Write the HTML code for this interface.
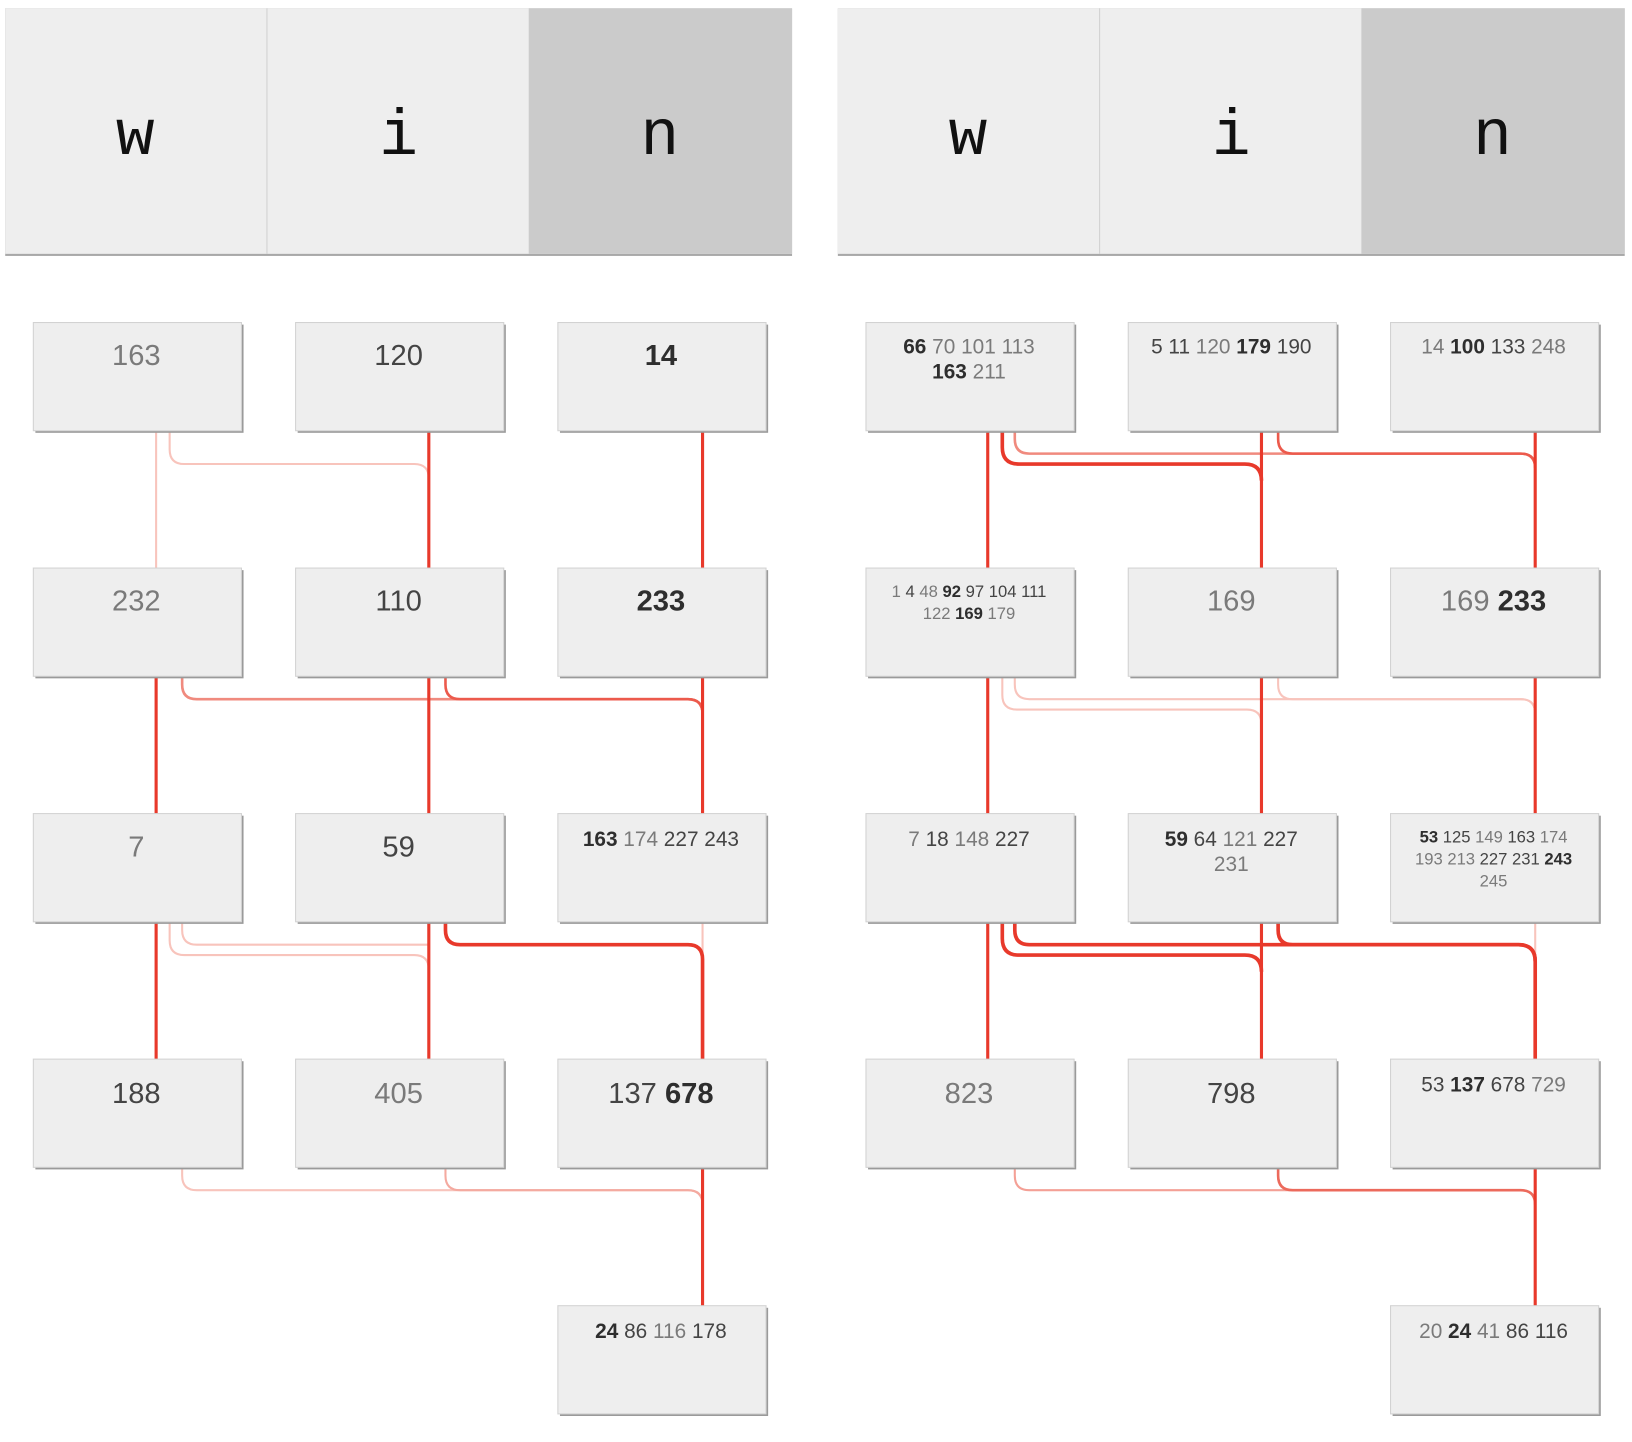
<!DOCTYPE html>
<html><head><meta charset="utf-8"><style>
html,body{margin:0;padding:0;background:#fff;width:1632px;height:1442px;overflow:hidden}
svg{display:block}
.L{fill:#7a7a7a}
.N{fill:#444}
.B{fill:#2e2e2e;font-weight:bold}
text{font-family:"Liberation Sans",sans-serif;text-anchor:middle}
.hd{font-family:"Liberation Mono","DejaVu Sans Mono",monospace;font-size:62px;fill:#111}
</style></head><body>
<svg width="1632" height="1442" viewBox="0 0 1568 1386" preserveAspectRatio="none">
<defs>
<g id="bx"><rect x="2" y="2" width="200" height="104" fill="#9a9a9a"/><rect x="0" y="0" width="200" height="104" fill="#eeeeee" stroke="#d2d2d2" stroke-width="1"/></g>
</defs>
<!-- headers -->
<g>
<rect x="5" y="8" width="756" height="238" fill="#a8a8a8"/>
<rect x="5" y="8" width="756" height="236" fill="#eeeeee"/>
<rect x="508" y="8" width="253" height="236" fill="#cbcbcb"/>
<line x1="256.5" y1="8" x2="256.5" y2="244" stroke="#d0d0d0"/>
<text class="hd" x="130" y="148">w</text><text class="hd" x="383" y="148">i</text><text class="hd" x="634" y="148">n</text>
<rect x="805" y="8" width="756" height="238" fill="#a8a8a8"/>
<rect x="805" y="8" width="756" height="236" fill="#eeeeee"/>
<rect x="1308" y="8" width="253" height="236" fill="#cbcbcb"/>
<line x1="1056.5" y1="8" x2="1056.5" y2="244" stroke="#d0d0d0"/>
<text class="hd" x="930" y="148">w</text><text class="hd" x="1183" y="148">i</text><text class="hd" x="1434" y="148">n</text>
</g>
<!-- connectors -->
<g fill="none" stroke-linecap="butt">
<!-- left r1-r2 -->
<path d="M150 414V546" stroke="#f8c4bc" stroke-width="2"/>
<path d="M163 414V432Q163 446 177 446H398Q412 446 412 460" stroke="#f8c4bc" stroke-width="2"/>
<path d="M412 414V546" stroke="#e8392b" stroke-width="3"/>
<path d="M675 414V546" stroke="#e8392b" stroke-width="3"/>
<!-- left r2-r3 -->
<path d="M150 650V782" stroke="#e8392b" stroke-width="3"/>
<path d="M175 650V658Q175 672 189 672H661Q675 672 675 686" stroke="#f08a7e" stroke-width="2.5"/>
<path d="M428 650V658Q428 672 442 672H661Q675 672 675 686" stroke="#ec5a4c" stroke-width="2.5"/>
<path d="M412 650V782" stroke="#e8392b" stroke-width="3"/>
<path d="M675 650V782" stroke="#e8392b" stroke-width="3"/>
<!-- left r3-r4 -->
<path d="M150 886V1018" stroke="#e8392b" stroke-width="3"/>
<path d="M175 886V894Q175 908 189 908H412" stroke="#f8c4bc" stroke-width="2"/>
<path d="M163 886V904Q163 918 177 918H398Q412 918 412 932" stroke="#f8c4bc" stroke-width="2"/>
<path d="M412 886V1018" stroke="#e8392b" stroke-width="3"/>
<path d="M675 886V1018" stroke="#f8c4bc" stroke-width="2"/>
<path d="M428 886V894Q428 908 442 908H661Q675 908 675 922V1018" stroke="#e8392b" stroke-width="3.5"/>
<!-- left r4-r5 -->
<path d="M175 1122V1130Q175 1144 189 1144H661Q675 1144 675 1158" stroke="#f8c4bc" stroke-width="2"/>
<path d="M428 1122V1130Q428 1144 442 1144H661Q675 1144 675 1158" stroke="#f4aaa0" stroke-width="2"/>
<path d="M675 1122V1255" stroke="#e8392b" stroke-width="3"/>
<!-- right r1-r2 -->
<path d="M949 414V546" stroke="#e8392b" stroke-width="3"/>
<path d="M975 414V422Q975 436 989 436H1461Q1475 436 1475 450" stroke="#f08a7e" stroke-width="2.5"/>
<path d="M963 414V430Q963 446 979 446H1196Q1212 446 1212 462" stroke="#e8392b" stroke-width="3.5"/>
<path d="M1228 414V422Q1228 436 1242 436H1461Q1475 436 1475 450" stroke="#ec5a4c" stroke-width="2.5"/>
<path d="M1212 414V546" stroke="#e8392b" stroke-width="3"/>
<path d="M1475 414V546" stroke="#e8392b" stroke-width="3"/>
<!-- right r2-r3 -->
<path d="M949 650V782" stroke="#e8392b" stroke-width="3"/>
<path d="M963 650V668Q963 682 977 682H1198Q1212 682 1212 696" stroke="#f8c4bc" stroke-width="2"/>
<path d="M975 650V658Q975 672 989 672H1461Q1475 672 1475 686" stroke="#f8c4bc" stroke-width="2"/>
<path d="M1228 650V658Q1228 672 1242 672H1461Q1475 672 1475 686" stroke="#f8c4bc" stroke-width="2"/>
<path d="M1212 650V782" stroke="#e8392b" stroke-width="3"/>
<path d="M1475 650V782" stroke="#e8392b" stroke-width="3"/>
<!-- right r3-r4 -->
<path d="M949 886V1018" stroke="#e8392b" stroke-width="3"/>
<path d="M1475 886V1018" stroke="#f8c4bc" stroke-width="2"/>
<path d="M963 886V902Q963 918 979 918H1196Q1212 918 1212 934" stroke="#e8392b" stroke-width="3.5"/>
<path d="M975 886V894Q975 908 989 908H1459Q1475 908 1475 924V1018" stroke="#e8392b" stroke-width="3.5"/>
<path d="M1228 886V894Q1228 908 1242 908H1459Q1475 908 1475 924" stroke="#e8392b" stroke-width="3.5"/>
<path d="M1212 886V1018" stroke="#e8392b" stroke-width="3"/>
<!-- right r4-r5 -->
<path d="M975 1122V1130Q975 1144 989 1144H1461Q1475 1144 1475 1158" stroke="#f4a096" stroke-width="2"/>
<path d="M1228 1122V1130Q1228 1144 1242 1144H1461Q1475 1144 1475 1158" stroke="#ec6a5c" stroke-width="2.5"/>
<path d="M1475 1122V1255" stroke="#e8392b" stroke-width="3"/>
</g>
<!-- boxes -->
<g>
<use href="#bx" x="32" y="310"/><use href="#bx" x="284" y="310"/><use href="#bx" x="536" y="310"/>
<use href="#bx" x="32" y="546"/><use href="#bx" x="284" y="546"/><use href="#bx" x="536" y="546"/>
<use href="#bx" x="32" y="782"/><use href="#bx" x="284" y="782"/><use href="#bx" x="536" y="782"/>
<use href="#bx" x="32" y="1018"/><use href="#bx" x="284" y="1018"/><use href="#bx" x="536" y="1018"/>
<use href="#bx" x="536" y="1255"/>
<use href="#bx" x="832" y="310"/><use href="#bx" x="1084" y="310"/><use href="#bx" x="1336" y="310"/>
<use href="#bx" x="832" y="546"/><use href="#bx" x="1084" y="546"/><use href="#bx" x="1336" y="546"/>
<use href="#bx" x="832" y="782"/><use href="#bx" x="1084" y="782"/><use href="#bx" x="1336" y="782"/>
<use href="#bx" x="832" y="1018"/><use href="#bx" x="1084" y="1018"/><use href="#bx" x="1336" y="1018"/>
<use href="#bx" x="1336" y="1255"/>
</g>
<!-- texts left -->
<g font-size="28">
<text x="131" y="351" class="L">163</text>
<text x="383" y="351" class="N">120</text>
<text x="635" y="351" class="B">14</text>
<text x="131" y="587" class="L">232</text>
<text x="383" y="587" class="N">110</text>
<text x="635" y="587" class="B">233</text>
<text x="131" y="823" class="L">7</text>
<text x="383" y="823" class="N">59</text>
<text x="131" y="1060" class="N">188</text>
<text x="383" y="1060" class="L">405</text>
<text x="635" y="1060"><tspan class="N">137 </tspan><tspan class="B">678</tspan></text>
<text x="931" y="1060" class="L">823</text>
<text x="1183" y="1060" class="N">798</text>
<text x="1183" y="587" class="L">169</text>
<text x="1435" y="587"><tspan class="L">169 </tspan><tspan class="B">233</tspan></text>
</g>
<g font-size="20">
<text x="635" y="813"><tspan class="B">163 </tspan><tspan class="L">174 </tspan><tspan class="N">227 243</tspan></text>
<text x="635" y="1286"><tspan class="B">24 </tspan><tspan class="N">86 </tspan><tspan class="L">116 </tspan><tspan class="N">178</tspan></text>
<text x="931" y="340"><tspan class="B">66 </tspan><tspan class="L">70 101 113</tspan></text>
<text x="931" y="364"><tspan class="B">163 </tspan><tspan class="L">211</tspan></text>
<text x="1183" y="340"><tspan class="N">5 11 </tspan><tspan class="L">120 </tspan><tspan class="B">179 </tspan><tspan class="N">190</tspan></text>
<text x="1435" y="340"><tspan class="L">14 </tspan><tspan class="B">100 </tspan><tspan class="N">133 </tspan><tspan class="L">248</tspan></text>
<text x="931" y="813"><tspan class="L">7 </tspan><tspan class="N">18 </tspan><tspan class="L">148 </tspan><tspan class="N">227</tspan></text>
<text x="1183" y="813"><tspan class="B">59 </tspan><tspan class="N">64 </tspan><tspan class="L">121 </tspan><tspan class="N">227</tspan></text>
<text x="1183" y="837" class="L">231</text>
<text x="1435" y="1049"><tspan class="N">53 </tspan><tspan class="B">137 </tspan><tspan class="N">678 </tspan><tspan class="L">729</tspan></text>
<text x="1435" y="1286"><tspan class="L">20 </tspan><tspan class="B">24 </tspan><tspan class="L">41 </tspan><tspan class="N">86 116</tspan></text>
</g>
<g font-size="16">
<text x="931" y="574"><tspan class="L">1 </tspan><tspan class="N">4 </tspan><tspan class="L">48 </tspan><tspan class="B">92 </tspan><tspan class="N">97 104 111</tspan></text>
<text x="931" y="595"><tspan class="L">122 </tspan><tspan class="B">169 </tspan><tspan class="L">179</tspan></text>
<text x="1435" y="810"><tspan class="B">53 </tspan><tspan class="N">125 </tspan><tspan class="L">149 </tspan><tspan class="N">163 </tspan><tspan class="L">174</tspan></text>
<text x="1435" y="831"><tspan class="L">193 213 </tspan><tspan class="N">227 231 </tspan><tspan class="B">243</tspan></text>
<text x="1435" y="852" class="L">245</text>
</g>
</svg>
</body></html>
